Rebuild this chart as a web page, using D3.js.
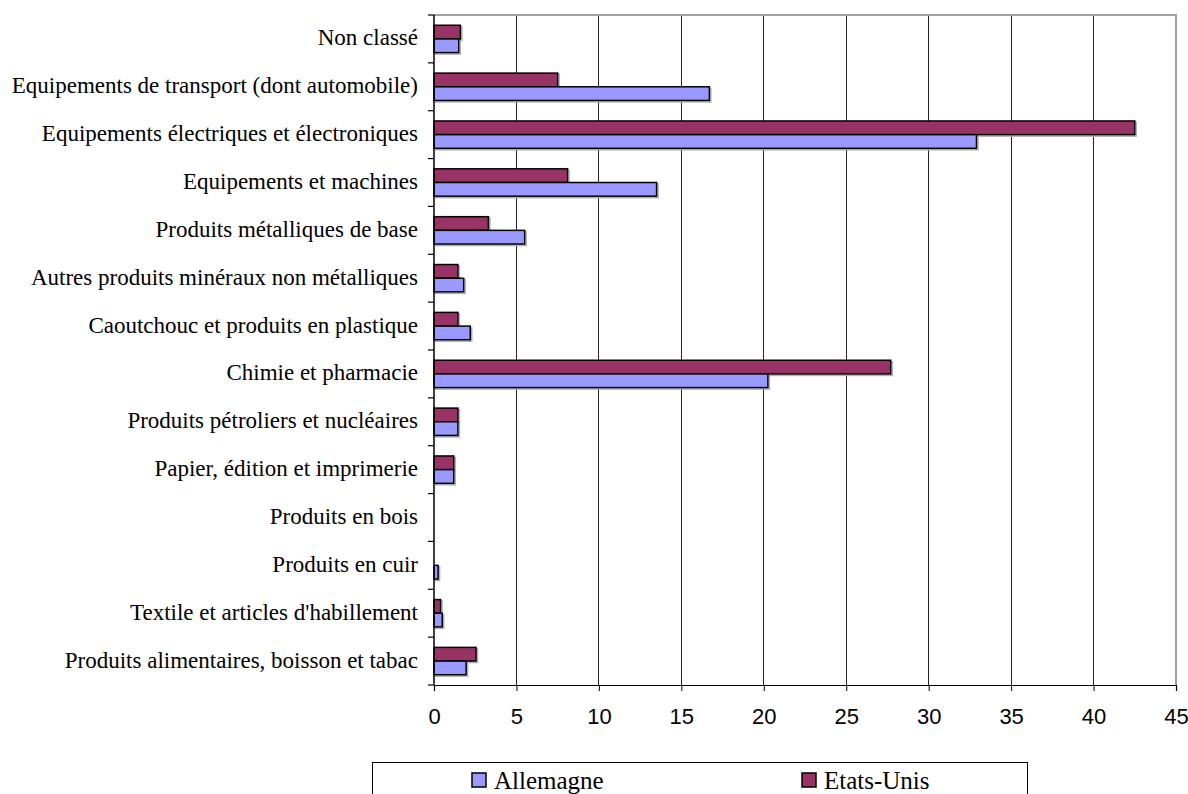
<!DOCTYPE html>
<html>
<head>
<meta charset="utf-8">
<script src="https://cdn.jsdelivr.net/npm/d3@7"></script>
<style>
  html, body { margin: 0; padding: 0; background: #fff; }
  svg { display: block; }
</style>
</head>
<body>
<svg id="chart" width="1188" height="794"></svg>
<script>
// Categories, top to bottom as shown
const categories = [
  "Non classé",
  "Equipements de transport (dont automobile)",
  "Equipements électriques et électroniques",
  "Equipements et machines",
  "Produits métalliques de base",
  "Autres produits minéraux non métalliques",
  "Caoutchouc et produits en plastique",
  "Chimie et pharmacie",
  "Produits pétroliers et nucléaires",
  "Papier, édition et imprimerie",
  "Produits en bois",
  "Produits en cuir",
  "Textile et articles d'habillement",
  "Produits alimentaires, boisson et tabac"
];
const allemagne = [1.5, 16.7, 32.9, 13.5, 5.5, 1.8, 2.2, 20.25, 1.45, 1.2, 0, 0.25, 0.5, 1.95];
const etatsUnis = [1.6, 7.5, 42.5, 8.1, 3.3, 1.45, 1.45, 27.7, 1.45, 1.2, 0, 0, 0.4, 2.55];
const seriesNames = ["Allemagne", "Etats-Unis"];
const seriesColors = ["#9999FF", "#993366"];
const xTicks = [0, 5, 10, 15, 20, 25, 30, 35, 40, 45];

const svg = d3.select("#chart");
const L = 434, R = 1176, T = 15, B = 685;

const x = d3.scaleLinear().domain([0, 45]).range([L, R]);
const y = d3.scaleBand().domain(categories).range([T, B]).padding(0);
// within a band: Etats-Unis on top, Allemagne below
const inner = d3.scaleBand().domain(["Etats-Unis", "Allemagne"])
  .range([0, y.bandwidth()]).paddingInner(0).paddingOuter(0.75);

// gridlines
svg.append("g").selectAll("line").data(xTicks.filter(t => t > 0 && t < 45)).join("line")
  .attr("x1", d => x(d)).attr("x2", d => x(d))
  .attr("y1", T).attr("y2", B)
  .attr("stroke", "#222").attr("stroke-width", 1).attr("shape-rendering", "crispEdges");

// plot border top/right (grey)
svg.append("path")
  .attr("d", `M${L},${T}H${R}V${B}`)
  .attr("fill", "none").attr("stroke", "#a0a0a0").attr("stroke-width", 2);

// bars
const rows = [];
categories.forEach((c, i) => {
  rows.push({ cat: c, s: "Etats-Unis", v: etatsUnis[i], color: seriesColors[1] });
  rows.push({ cat: c, s: "Allemagne", v: allemagne[i], color: seriesColors[0] });
});
const barRows = rows.filter(d => d.v > 0);
const gBars = svg.append("g");
gBars.selectAll("rect.shadow").data(barRows).join("rect")
  .attr("class", "shadow")
  .attr("x", d => x(0) + 1.5)
  .attr("y", d => y(d.cat) + inner(d.s) + 1.5)
  .attr("width", d => x(d.v) - x(0))
  .attr("height", inner.bandwidth())
  .attr("fill", "none").attr("stroke", "#b0b0b0").attr("stroke-width", 1.5);
gBars.selectAll("rect.bar").data(barRows).join("rect")
  .attr("class", "bar")
  .attr("x", d => x(0))
  .attr("y", d => y(d.cat) + inner(d.s))
  .attr("width", d => x(d.v) - x(0))
  .attr("height", inner.bandwidth())
  .attr("fill", d => d.color).attr("stroke", "#000").attr("stroke-width", 1.5);

// x axis
const xAxis = d3.axisBottom(x).tickValues(xTicks).tickSize(6).tickPadding(0).tickFormat(d3.format("d"));
const gx = svg.append("g").attr("transform", `translate(0,${B})`).call(xAxis);
gx.select(".domain").attr("stroke", "#000").attr("stroke-width", 1.2);
gx.selectAll(".tick line").attr("stroke", "#000");
gx.selectAll(".tick text")
  .attr("y", 39).attr("dy", 0)
  .attr("font-family", "'Liberation Sans', Arial, sans-serif")
  .attr("font-size", 22).attr("fill", "#000");

// y axis line + ticks at band boundaries
svg.append("line").attr("x1", L).attr("x2", L).attr("y1", T).attr("y2", B)
  .attr("stroke", "#000").attr("stroke-width", 1.5);
const bounds = categories.map(c => y(c)).concat([B]);
svg.append("g").selectAll("line").data(bounds).join("line")
  .attr("x1", L - 6).attr("x2", L).attr("y1", d => d).attr("y2", d => d)
  .attr("stroke", "#000").attr("stroke-width", 1.2);

// category labels
svg.append("g").selectAll("text").data(categories).join("text")
  .attr("x", 418)
  .attr("y", d => y(d) + y.bandwidth() / 2 + 6.5)
  .attr("text-anchor", "end")
  .attr("font-family", "'Liberation Serif', 'Times New Roman', serif")
  .attr("font-size", 23).attr("fill", "#000")
  .text(d => d);

// legend
const lg = svg.append("g");
lg.append("rect").attr("x", 372.5).attr("y", 762.5).attr("width", 655).attr("height", 60)
  .attr("fill", "#fff").attr("stroke", "#000").attr("stroke-width", 1);
const legendX = [472, 802];
seriesNames.forEach((n, i) => {
  lg.append("rect").attr("x", legendX[i]).attr("y", 773).attr("width", 14).attr("height", 14)
    .attr("fill", seriesColors[i]).attr("stroke", "#000").attr("stroke-width", 1.5);
  lg.append("text").attr("x", legendX[i] + 22).attr("y", 789)
    .attr("font-family", "'Liberation Serif', 'Times New Roman', serif")
    .attr("font-size", 25).attr("fill", "#000").text(n);
});
</script>
</body>
</html>
